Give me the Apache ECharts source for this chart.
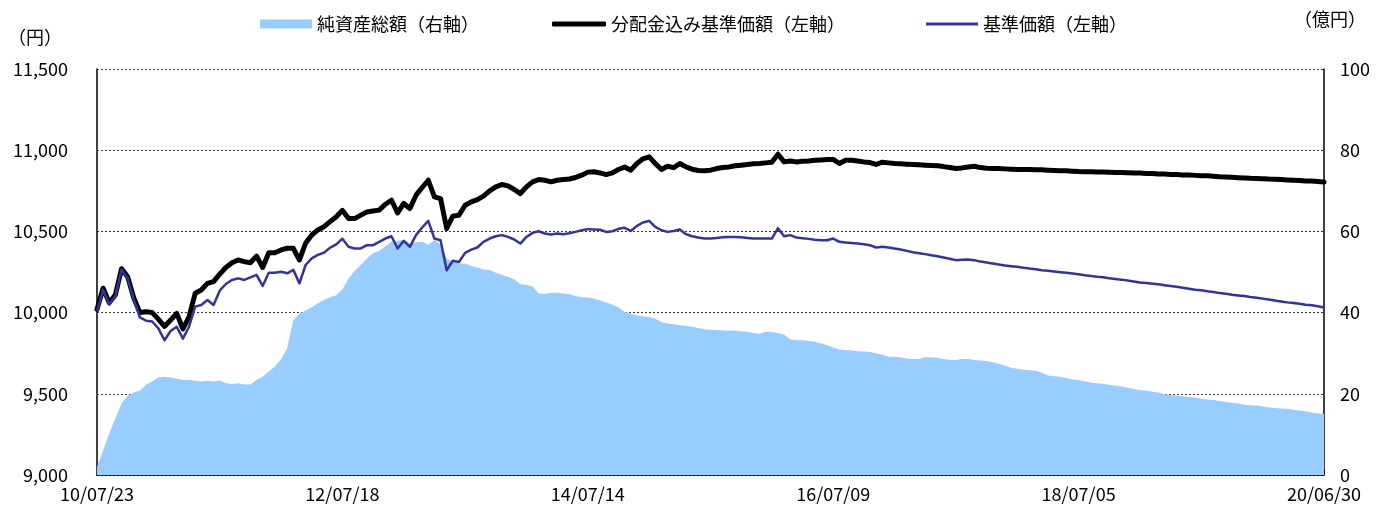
<!DOCTYPE html>
<html>
<head>
<meta charset="utf-8">
<script src="https://cdn.jsdelivr.net/npm/echarts@6/dist/echarts.min.js"></script>
<style>
html,body{margin:0;padding:0;background:#fff;}
#chart{width:1385px;height:509px;}
</style>
</head>
<body>
<div id="chart"></div>
<script>
// X-axis tick labels (one every 40 points)
const tickLabels = ['10/07/23','12/07/18','14/07/14','16/07/09','18/07/05','20/06/30'];
const pointsPerTick = 40;

// 分配金込み基準価額（左軸, 円）
const navReinvested = [
  10020,10150,10060,10110,10270,10220,10090,10000,10005,10000,9960,9915,9954,9995,9900,9974,10119,10139,10180,10191,
  10237,10278,10307,10324,10314,10307,10348,10278,10369,10369,10386,10396,10396,10324,10427,10478,10509,10529,10560,10590,
  10630,
  10579,10579,10600,10620,10626,10631,10667,10692,10614,10672,10641,10723,10770,10815,10713,10702,10518,10594,10600,10661,
  10682,10696,10717,10750,10774,10789,10780,10758,10733,10774,10805,10819,10815,10805,10815,10819,10823,10832,10846,10865,
  10867,10860,10850,10860,10881,10897,10877,10918,10947,10959,10918,10881,10901,10893,10918,10897,10883,10875,10873,10877,
  10887,10893,10897,10904,10908,10912,10916,10918,10922,10926,10975,10928,10934,10928,10932,10934,10938,10940,10942,10943,
  10918,10938,10938,10934,10928,10924,10912,10926,10922,10918,10916,10914,10912,10910,10908,10906,10904,10899,10893,10887,
  10891,10897,10901,10893,10889,10887,10887,10885,10883,10881,10881,10881,10879,10879,10877,10875,10873,10873,10871,10869,
  10868,10867,10866,10865,10864,10863,10862,10861,10860,10859,10857,10856,10854,10853,10851,10850,10848,10847,10845,10843,
  10842,10840,10837,10835,10833,10831,10829,10827,10826,10824,10822,10821,10819,10817,10815,10813,10811,10810,10807,10804
];

// 基準価額（左軸, 円）
const nav = [
  10010,10140,10050,10100,10265,10210,10080,9970,9950,9945,9903,9830,9887,9913,9840,9913,10037,10047,10078,10047,
  10135,10176,10201,10211,10201,10217,10232,10164,10246,10246,10252,10242,10263,10180,10293,10334,10355,10369,10400,10420,
  10455,
  10405,10395,10395,10415,10415,10436,10456,10470,10395,10442,10405,10477,10524,10565,10456,10446,10261,10319,10312,10368,
  10388,10401,10436,10456,10470,10477,10466,10450,10425,10466,10491,10501,10487,10481,10487,10483,10489,10497,10507,10514,
  10512,10510,10497,10501,10516,10522,10503,10534,10555,10565,10528,10507,10497,10503,10512,10483,10470,10462,10456,10456,
  10460,10464,10466,10466,10464,10460,10456,10456,10456,10456,10520,10470,10477,10462,10458,10454,10448,10446,10446,10456,
  10436,10431,10429,10425,10421,10415,10401,10405,10401,10395,10388,10380,10372,10366,10360,10353,10347,10339,10331,10323,
  10325,10327,10323,10314,10308,10302,10296,10290,10286,10282,10276,10271,10267,10261,10257,10253,10249,10245,10241,10236,
  10230,10226,10221,10217,10211,10207,10203,10197,10192,10186,10182,10178,10174,10168,10164,10159,10153,10147,10141,10137,
  10131,10127,10120,10116,10110,10106,10102,10096,10092,10086,10080,10074,10069,10063,10059,10055,10049,10045,10039,10032
];

// 純資産総額（右軸, 億円）
const netAssets = [
  2.0,6.1,10.2,14.0,17.7,19.5,20.3,20.8,22.2,23.0,24.1,24.2,24.0,23.7,23.4,23.4,23.2,23.0,23.2,23.0,
  23.3,22.6,22.4,22.6,22.3,22.3,23.4,24.2,25.5,26.7,28.5,31.2,38.2,39.8,40.5,41.3,42.3,43.1,43.8,44.3,
  45.7,
  48.4,50.3,51.7,53.3,54.7,55.2,56.3,57.5,57.7,57.9,57.1,57.3,57.5,56.7,57.9,56.7,53.3,52.5,52.1,52.1,
  51.5,51.1,50.6,50.5,49.8,49.3,48.8,48.2,47.0,46.8,46.4,44.7,44.6,44.9,44.9,44.7,44.6,44.1,43.8,43.7,
  43.5,43.0,42.5,42.0,41.3,40.2,39.7,39.3,39.1,38.9,38.5,37.7,37.3,37.1,36.9,36.7,36.5,36.2,35.9,35.8,
  35.7,35.6,35.5,35.6,35.4,35.3,35.0,34.8,35.3,35.2,35.0,34.6,33.4,33.2,33.2,33.0,32.8,32.4,32.0,31.4,
  30.9,30.8,30.7,30.5,30.4,30.3,30.0,29.6,29.1,29.1,29.0,28.7,28.6,28.6,29.0,29.0,28.9,28.6,28.4,28.3,
  28.6,28.6,28.3,28.2,28.1,27.8,27.4,26.9,26.4,26.2,25.9,25.8,25.7,25.2,24.5,24.3,24.2,23.9,23.5,23.4,
  23.0,22.8,22.6,22.5,22.2,22.0,21.8,21.5,21.2,20.9,20.8,20.5,20.3,19.9,19.7,19.6,19.4,19.2,19.1,18.8,
  18.6,18.5,18.2,18.0,17.8,17.6,17.3,17.2,17.1,16.9,16.7,16.5,16.4,16.3,16.1,15.9,15.7,15.4,15.2,15.0
];

const leftTicks = { min: 9000, max: 11500, interval: 500 };
const rightTicks = { min: 0, max: 100, interval: 20 };

const categories = nav.map((_, i) => String(i));

const FONT = "'Noto Sans CJK JP', 'Noto Sans', sans-serif";
const chart = echarts.init(document.getElementById('chart'), null, { renderer: 'canvas' });

const legendText = { color: '#000', fontSize: 18, fontFamily: FONT };
const axisFont = 18;

chart.setOption({
  animation: false,
  backgroundColor: '#fff',
  textStyle: { fontFamily: FONT },
  grid: { left: 97, right: 61, top: 69, bottom: 34, containLabel: false },
  legend: [
    { data: [{ name: '純資産総額（右軸）', icon: 'rect' }], left: 255, top: 10, itemWidth: 52, itemHeight: 9, textStyle: legendText, selectedMode: false },
    { data: [{ name: '分配金込み基準価額（左軸）', icon: 'roundRect' }], left: 547, top: 10, itemWidth: 54, itemHeight: 5, textStyle: legendText, selectedMode: false },
    { data: [{ name: '基準価額（左軸）', icon: 'rect' }], left: 921, top: 10, itemWidth: 52, itemHeight: 3, textStyle: legendText, selectedMode: false }
  ],
  graphic: [
    { type: 'text', left: 8, top: 28, style: { text: '（円）', fontSize: 18, fontFamily: FONT, fill: '#000' } },
    { type: 'text', left: 1294, top: 10, style: { text: '（億円）', fontSize: 18, fontFamily: FONT, fill: '#000' } }
  ],
  xAxis: {
    type: 'category',
    data: categories,
    boundaryGap: false,
    axisLine: { show: true, lineStyle: { color: '#000', width: 1.5 } },
    axisTick: { show: true, inside: true, length: 5, interval: (i) => i % pointsPerTick === 0, lineStyle: { color: '#000' } },
    axisLabel: {
      interval: (i) => i % pointsPerTick === 0,
      formatter: (v, i) => tickLabels[Math.round(i / pointsPerTick)],
      color: '#000', fontSize: axisFont, fontFamily: FONT, margin: 10,
      showMinLabel: true, showMaxLabel: true
    },
    splitLine: { show: false }
  },
  yAxis: [
    {
      type: 'value', min: leftTicks.min, max: leftTicks.max, interval: leftTicks.interval,
      axisLine: { show: true, lineStyle: { color: '#000', width: 1.5 } },
      axisTick: { show: false },
      axisLabel: { color: '#000', fontSize: axisFont, fontFamily: FONT, margin: 29,
        formatter: (v) => v.toLocaleString('en-US') },
      splitLine: { show: true, lineStyle: { color: '#333', width: 1, type: [2, 2] } }
    },
    {
      type: 'value', min: rightTicks.min, max: rightTicks.max, interval: rightTicks.interval,
      position: 'right',
      axisLine: { show: true, lineStyle: { color: '#000', width: 1.5 } },
      axisTick: { show: false },
      axisLabel: { color: '#000', fontSize: axisFont, fontFamily: FONT, margin: 16 },
      splitLine: { show: false }
    }
  ],
  series: [
    {
      name: '純資産総額（右軸）', type: 'line', yAxisIndex: 1, data: netAssets,
      symbol: 'none', showSymbol: false, z: 1,
      itemStyle: { color: '#99CCFF' },
      lineStyle: { width: 0, color: '#99CCFF' },
      areaStyle: { color: '#99CCFF', opacity: 1 }
    },
    {
      name: '分配金込み基準価額（左軸）', type: 'line', yAxisIndex: 0, data: navReinvested,
      symbol: 'none', showSymbol: false, z: 3,
      itemStyle: { color: '#000' },
      lineStyle: { width: 5, color: '#000', join: 'round', cap: 'round' }
    },
    {
      name: '基準価額（左軸）', type: 'line', yAxisIndex: 0, data: nav,
      symbol: 'none', showSymbol: false, z: 4,
      itemStyle: { color: '#333399' },
      lineStyle: { width: 2.5, color: '#333399', join: 'round' }
    }
  ]
});
</script>
</body>
</html>
